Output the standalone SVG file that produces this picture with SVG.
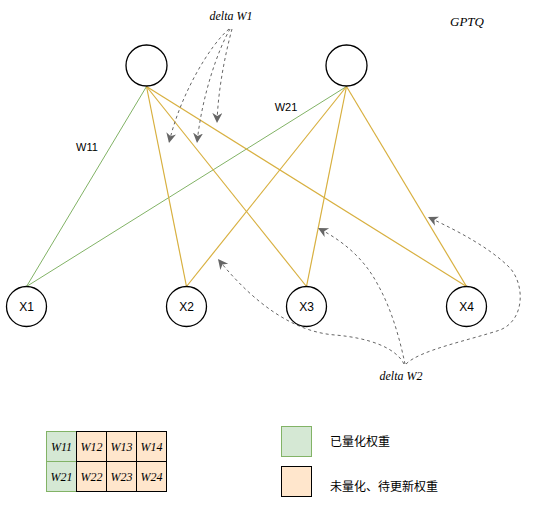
<svg xmlns="http://www.w3.org/2000/svg" width="548" height="520" viewBox="0 0 548 520">
<style>
.node{fill:#fff;stroke:#000;stroke-width:1.3}
.lbl{font-family:"Liberation Sans",Arial,sans-serif;font-size:12px;fill:#000;text-anchor:middle}
.it{font-family:"Liberation Serif","Times New Roman",serif;font-style:italic;font-size:12px;fill:#000;text-anchor:middle}
.g{stroke:#82b366;stroke-width:1;fill:none}
.y{stroke:#d8b040;stroke-width:1.2;fill:none}
.d{stroke:#666;stroke-width:1;stroke-dasharray:3 3;fill:none;marker-end:url(#ah)}
.cg{fill:#d5e8d4;stroke:#82b366;stroke-width:1}
.co{fill:#ffe6cc;stroke:#000;stroke-width:1}
.cjk{font-family:"Noto Sans CJK SC","Noto Sans",sans-serif;font-size:12px;fill:#000}
</style>
<defs>
<marker id="ah" markerUnits="userSpaceOnUse" markerWidth="11" markerHeight="11" refX="10" refY="5" orient="auto">
<path d="M0,0 L10,5 L0,10 L3,5 Z" fill="#666"/>
</marker>
</defs>
<rect width="548" height="520" fill="#fff"/>
<g id="connectors">
<line class="g" x1="146.5" y1="86.5" x2="26.5" y2="286.5"/>
<line class="g" x1="346.5" y1="86.5" x2="26.5" y2="286.5"/>
<line class="y" x1="146.5" y1="86.5" x2="186.5" y2="286.5"/>
<line class="y" x1="146.5" y1="86.5" x2="306.5" y2="286.5"/>
<line class="y" x1="146.5" y1="86.5" x2="466.5" y2="286.5"/>
<line class="y" x1="346.5" y1="86.5" x2="186.5" y2="286.5"/>
<line class="y" x1="346.5" y1="86.5" x2="306.5" y2="286.5"/>
<line class="y" x1="346.5" y1="86.5" x2="466.5" y2="286.5"/>
<path class="d" d="M229,29 C210,45 180,95 169,143"/>
<path class="d" d="M230,29 C218,50 202,95 197,143"/>
<path class="d" d="M232,29 C225,55 218,90 217,123"/>
<path class="d" d="M404,364 C396,348 370,338 335,335 C295,332 255,305 218,259"/>
<path class="d" d="M405,364 C400,340 392,310 378,285 C365,260 345,242 318,228"/>
<path class="d" d="M406,364 C420,350 470,340 500,330 C525,320 525,285 510,268 C490,248 460,232 428,217"/>
</g>
<g id="h1"><circle class="node" cx="146.5" cy="65.5" r="20.5"/></g>
<g id="h2"><circle class="node" cx="346.5" cy="65.5" r="20.5"/></g>
<g id="x1"><circle class="node" cx="26.5" cy="306.5" r="20"/><text class="lbl" x="26.5" y="311">X1</text></g>
<g id="x2"><circle class="node" cx="186.5" cy="306.5" r="20"/><text class="lbl" x="186.5" y="311">X2</text></g>
<g id="x3"><circle class="node" cx="306.5" cy="306.5" r="20"/><text class="lbl" x="306.5" y="311">X3</text></g>
<g id="x4"><circle class="node" cx="466.5" cy="306.5" r="20"/><text class="lbl" x="466.5" y="311">X4</text></g>
<g id="labels">
<text class="lbl" x="87" y="151" style="font-size:11px">W11</text>
<text class="lbl" x="286" y="111" style="font-size:11px">W21</text>
<text class="it" x="231" y="20">delta W1</text>
<text class="it" x="401" y="380">delta W2</text>
<text class="it" x="467" y="26" style="font-size:13px">GPTQ</text>
</g>
<g id="table">
<rect class="cg" x="46.5" y="431.5" width="30" height="30"/>
<rect class="cg" x="46.5" y="461.5" width="30" height="30"/>
<rect class="co" x="76.5" y="431.5" width="30" height="30"/>
<rect class="co" x="106.5" y="431.5" width="30" height="30"/>
<rect class="co" x="136.5" y="431.5" width="30" height="30"/>
<rect class="co" x="76.5" y="461.5" width="30" height="30"/>
<rect class="co" x="106.5" y="461.5" width="30" height="30"/>
<rect class="co" x="136.5" y="461.5" width="30" height="30"/>
<text class="it" x="61.5" y="451">W11</text>
<text class="it" x="91.5" y="451">W12</text>
<text class="it" x="121.5" y="451">W13</text>
<text class="it" x="151.5" y="451">W14</text>
<text class="it" x="61.5" y="481">W21</text>
<text class="it" x="91.5" y="481">W22</text>
<text class="it" x="121.5" y="481">W23</text>
<text class="it" x="151.5" y="481">W24</text>
</g>
<g id="legend-quantized">
<rect class="cg" x="281.5" y="426.5" width="30" height="30"/>
<text class="cjk" x="330" y="446">已量化权重</text>
</g>
<g id="legend-pending">
<rect class="co" x="281.5" y="466.5" width="30" height="30"/>
<text class="cjk" x="330" y="491">未量化、待更新权重</text>
</g>
</svg>
